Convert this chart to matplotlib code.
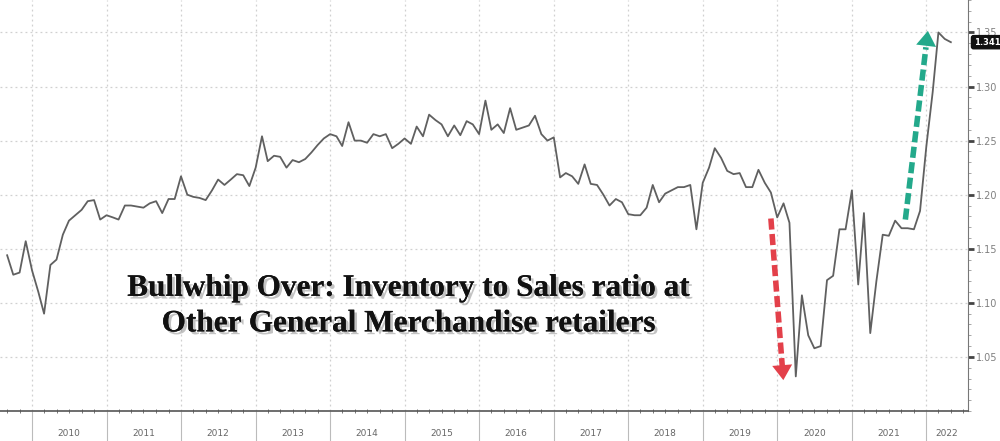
import matplotlib
matplotlib.use('Agg')
import matplotlib.pyplot as plt
import matplotlib.dates as mdates
import matplotlib.patheffects as pe
import pandas as pd

# monthly inventory/sales ratio, Sep 2009 .. Apr 2022
ratio = [1.144, 1.126, 1.128, 1.157,
         1.130, 1.110, 1.090, 1.135, 1.140, 1.163, 1.176, 1.181, 1.186, 1.194, 1.195, 1.177,
         1.181, 1.179, 1.177, 1.190, 1.190, 1.189, 1.188, 1.192, 1.194, 1.183, 1.196, 1.196,
         1.217, 1.200, 1.198, 1.197, 1.195, 1.204, 1.214, 1.209, 1.214, 1.219, 1.218, 1.208,
         1.225, 1.254, 1.231, 1.236, 1.235, 1.225, 1.232, 1.230, 1.233, 1.239, 1.246, 1.252,
         1.256, 1.254, 1.245, 1.267, 1.250, 1.250, 1.248, 1.256, 1.254, 1.256, 1.243, 1.247,
         1.252, 1.247, 1.263, 1.254, 1.274, 1.269, 1.265, 1.254, 1.264, 1.255, 1.268, 1.265,
         1.256, 1.287, 1.260, 1.265, 1.257, 1.280, 1.260, 1.262, 1.264, 1.273, 1.256, 1.250,
         1.253, 1.216, 1.220, 1.217, 1.210, 1.228, 1.210, 1.209, 1.200, 1.190, 1.196, 1.193,
         1.182, 1.181, 1.181, 1.188, 1.209, 1.193, 1.201, 1.204, 1.207, 1.207, 1.209, 1.168,
         1.211, 1.225, 1.243, 1.234, 1.222, 1.219, 1.220, 1.207, 1.207, 1.223, 1.211, 1.202,
         1.179, 1.192, 1.174, 1.032, 1.107, 1.070, 1.058, 1.060, 1.121, 1.125, 1.168, 1.168,
         1.204, 1.117, 1.183, 1.072, 1.120, 1.163, 1.162, 1.176, 1.169, 1.169, 1.168, 1.185,
         1.245, 1.295, 1.350, 1.344, 1.341]
dates = pd.date_range('2009-09-01', periods=len(ratio), freq='MS')
years = list(range(2010, 2023))
yticks = [1.05, 1.10, 1.15, 1.20, 1.25, 1.30, 1.35]
last_label = '1.341'

title = 'Bullwhip Over: Inventory to Sales ratio at\nOther General Merchandise retailers'

red_arrow = (('2019-12-01', 1.178), ('2020-02-01', 1.026))
green_arrow = (('2021-09-20', 1.177), ('2022-01-10', 1.354))

fig = plt.figure(figsize=(10, 4.41), dpi=100)
ax = fig.add_axes([0.0, 0.068, 0.968, 0.932])

ax.plot(dates, ratio, color='#606060', lw=1.3)

ax.set_xlim(pd.Timestamp('2009-07-28'), pd.Timestamp('2022-07-24'))
ax.set_ylim(1.0, 1.38)

# spines
for s in ['top', 'left']:
    ax.spines[s].set_visible(False)
ax.spines['right'].set_color('#777777')
ax.spines['bottom'].set_color('#555555')
ax.spines['bottom'].set_linewidth(1.2)

# y axis on the right
ax.yaxis.tick_right()
ax.set_yticks(yticks)
ax.set_yticklabels(['%.2f' % v for v in yticks])
ax.yaxis.set_minor_locator(matplotlib.ticker.MultipleLocator(0.01))
ax.tick_params(axis='y', which='major', direction='out', length=4, width=2,
               color='#444444', labelsize=7, labelcolor='#808080', pad=2)
ax.tick_params(axis='y', which='minor', direction='out', length=2, width=0.6,
               color='#999999')

# x axis: year separators + minor ticks
ax.xaxis.set_major_locator(mdates.YearLocator())
ax.xaxis.set_minor_locator(mdates.MonthLocator(bymonth=[3, 5, 7, 9, 11]))
ax.xaxis.set_major_formatter(matplotlib.ticker.NullFormatter())
ax.tick_params(axis='x', which='major', direction='out', length=22, width=0.8,
               color='#bbbbbb')
ax.tick_params(axis='x', which='minor', direction='inout', length=3, width=0.7,
               color='#777777')
for y in years:
    mid = pd.Timestamp('%d-07-01' % y)
    if y == 2022:
        mid = pd.Timestamp('2022-04-10')
    ax.text(mid, -0.055, str(y), transform=ax.get_xaxis_transform(),
            ha='center', va='center', fontsize=6.5, color='#666666')

ax.grid(True, which='major', axis='both', color='#d0d0d0', ls=(0, (1.5, 2.5)), lw=0.9)

# last value tag
ax.annotate(last_label, xy=(1.0, ratio[-1]), xycoords=('axes fraction', 'data'),
            xytext=(4, 0), textcoords='offset points', ha='left', va='center',
            fontsize=6, color='white', fontweight='bold',
            bbox=dict(boxstyle='round,pad=0.25', fc='#111111', ec='#111111'))

# headline text
ax.text(pd.Timestamp('2015-01-20'), 1.097, title, ha='center', va='center',
        fontsize=22.5, fontweight='bold', family='Liberation Serif', color='#111111',
        linespacing=1.3,
        path_effects=[pe.withSimplePatchShadow(offset=(2, -2), shadow_rgbFace='#888888',
                                               alpha=0.5), pe.Normal()])

# arrows
for (p0, p1), col in [(red_arrow, '#e3404a'), (green_arrow, '#23a98b')]:
    t0, v0 = pd.Timestamp(p0[0]), p0[1]
    t1, v1 = pd.Timestamp(p1[0]), p1[1]
    tm = t0 + (t1 - t0) * 0.9
    vm = v0 + (v1 - v0) * 0.9
    ax.plot([t0, tm], [v0, vm], color=col, lw=4, dashes=(2.0, 0.8),
            solid_capstyle='butt', dash_capstyle='butt')
    ax.annotate('', xy=(t1, v1), xytext=(tm, vm),
                arrowprops=dict(arrowstyle='-|>,head_width=0.4,head_length=0.6',
                                color=col, lw=0, mutation_scale=18))

fig.savefig('out.png', dpi=100)
